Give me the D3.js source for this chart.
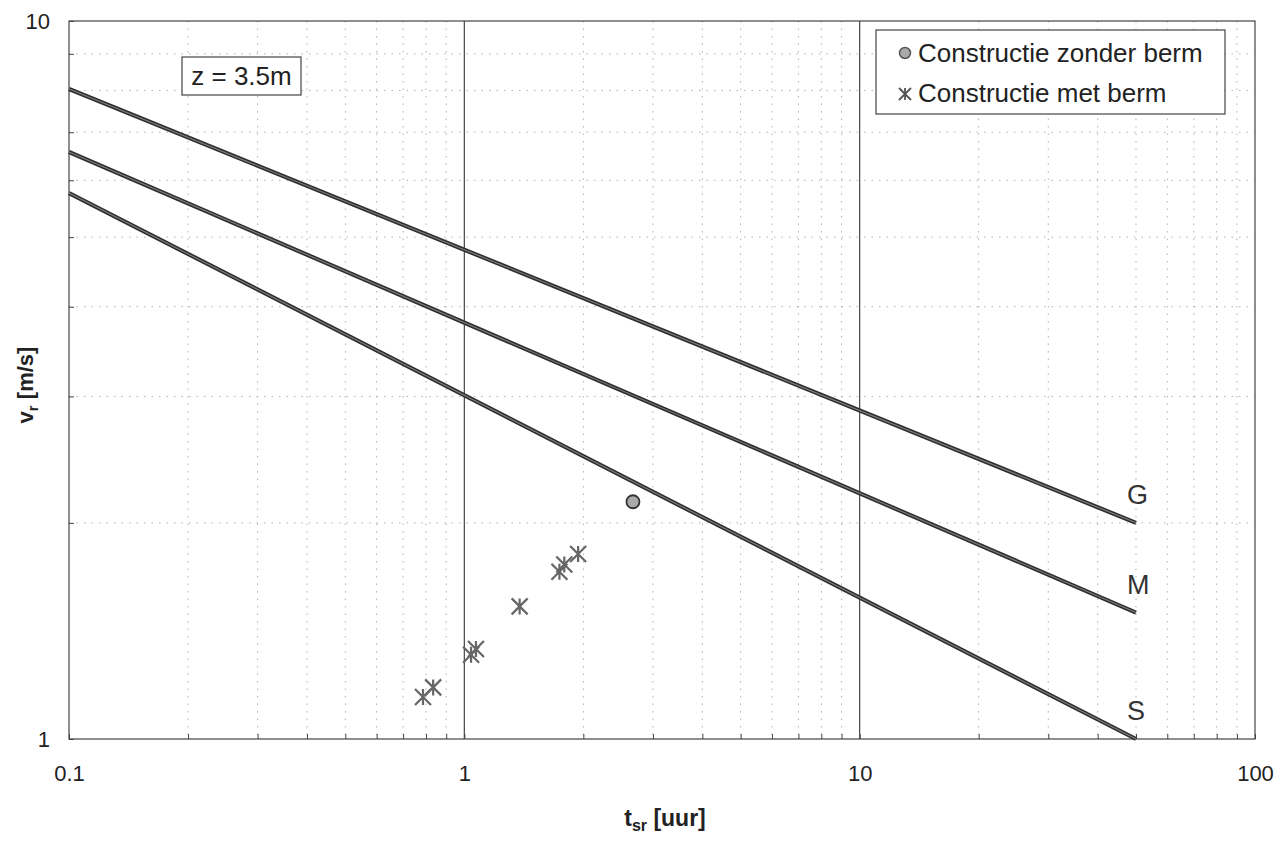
<!DOCTYPE html>
<html>
<head>
<meta charset="utf-8">
<script src="https://cdn.jsdelivr.net/npm/d3@7"></script>
<style>
  body { margin: 0; background: #fff; }
  text { font-family: Arial, "Liberation Sans", sans-serif; fill: #222; }
</style>
</head>
<body>
<div id="chart"></div>
<script>
// design lines (start at t = 0.1, end at t = 50)
var lineNames = ["G", "M", "S"];
var lineT = [0.1, 50];
var lineG = [8.04, 2.0];
var lineM = [6.57, 1.5];
var lineS = [5.76, 1.0];

// measured points
var tZonder = [2.67];
var vZonder = [2.14];
var tMet = [0.786, 0.834, 1.04, 1.07, 1.38, 1.74, 1.79, 1.94];
var vMet = [1.144, 1.18, 1.31, 1.335, 1.53, 1.71, 1.75, 1.81];

var xTickLabels = ["0.1", "1", "10", "100"];
var yTickLabels = ["1", "10"];
var legendLabels = ["Constructie zonder berm", "Constructie met berm"];
var boxLabel = "z = 3.5m";

var W = 1287, H = 843;
var margin = {top: 21, right: 32, bottom: 104, left: 69};

var svg = d3.select("#chart").append("svg")
    .attr("width", W)
    .attr("height", H);

var x = d3.scaleLog()
    .domain([0.1, 100])
    .range([margin.left, W - margin.right]);

var y = d3.scaleLog()
    .domain([1, 10])
    .range([H - margin.bottom, margin.top]);

var x0 = x.range()[0], x1 = x.range()[1];
var y0 = y.range()[0], y1 = y.range()[1];

// minor grid (dotted)
var xMinor = x.ticks().filter(function (d) { return xTickLabels.indexOf(String(d)) < 0; });
var yMinor = y.ticks().filter(function (d) { return d != 1 && d != 10; });

svg.append("g").selectAll("line")
    .data(xMinor)
    .enter().append("line")
    .attr("x1", function (d) { return x(d); })
    .attr("x2", function (d) { return x(d); })
    .attr("y1", y1).attr("y2", y0)
    .style("stroke", "#b0b0b0")
    .style("stroke-width", 1)
    .style("stroke-dasharray", "1.5,6");

svg.append("g").selectAll("line")
    .data(yMinor)
    .enter().append("line")
    .attr("y1", function (d) { return y(d); })
    .attr("y2", function (d) { return y(d); })
    .attr("x1", x0).attr("x2", x1)
    .style("stroke", "#b0b0b0")
    .style("stroke-width", 1)
    .style("stroke-dasharray", "1.5,6");

// major vertical grid at 1 and 10
svg.append("g").selectAll("line")
    .data([1, 10])
    .enter().append("line")
    .attr("x1", function (d) { return x(d); })
    .attr("x2", function (d) { return x(d); })
    .attr("y1", y1).attr("y2", y0)
    .style("stroke", "#444")
    .style("stroke-width", 1.2);

// frame
svg.append("rect")
    .attr("x", x0).attr("y", y1)
    .attr("width", x1 - x0).attr("height", y0 - y1)
    .style("fill", "none")
    .style("stroke", "#444")
    .style("stroke-width", 1.2);

// axes, ticks pointing inward
var xAxis = d3.axisBottom(x).tickSizeInner(-5).tickSizeOuter(0)
    .tickFormat(function (d) { return xTickLabels.indexOf(String(d)) >= 0 ? String(d) : ""; });
var gx = svg.append("g")
    .attr("transform", "translate(0," + y0 + ")")
    .call(xAxis);
gx.select(".domain").remove();
gx.selectAll("line").style("stroke", "#444");
gx.selectAll("text")
    .attr("y", 0).attr("dy", "1.9em")
    .style("font-size", "22px")
    .style("font-family", "Arial, 'Liberation Sans', sans-serif")
    .style("fill", "#222");

var yAxis = d3.axisLeft(y).tickSizeInner(-5).tickSizeOuter(0)
    .tickFormat(function (d) { return yTickLabels.indexOf(String(d)) >= 0 ? String(d) : ""; });
var gy = svg.append("g")
    .attr("transform", "translate(" + x0 + ",0)")
    .call(yAxis);
gy.select(".domain").remove();
gy.selectAll("line").style("stroke", "#444");
gy.selectAll("text")
    .attr("x", -19)
    .style("font-size", "22px")
    .style("font-family", "Arial, 'Liberation Sans', sans-serif")
    .style("fill", "#222");

// axis titles
var xt = svg.append("text")
    .attr("x", 665).attr("y", 826)
    .attr("text-anchor", "middle")
    .style("font-size", "23px")
    .style("font-weight", "bold");
xt.append("tspan").text("t");
xt.append("tspan").attr("dy", 5).style("font-size", "16px").text("sr");
xt.append("tspan").attr("dy", -5).text(" [uur]");

var yt = svg.append("text")
    .attr("transform", "translate(33," + ((y0 + y1) / 2 + 5) + ") rotate(-90)")
    .attr("text-anchor", "middle")
    .style("font-size", "22px")
    .style("font-weight", "bold");
yt.append("tspan").text("v");
yt.append("tspan").attr("dy", 5).style("font-size", "15px").text("r");
yt.append("tspan").attr("dy", -5).text(" [m/s]");

// design lines
var lineData = [lineG, lineM, lineS];
var lineGen = d3.line()
    .x(function (d, i) { return x(lineT[i]); })
    .y(function (d) { return y(d); });

var lines = svg.append("g").selectAll("g")
    .data(lineData)
    .enter().append("g");

lines.append("path")
    .attr("d", lineGen)
    .style("fill", "none")
    .style("stroke", "#2e2e2e")
    .style("stroke-width", 4.2);
lines.append("path")
    .attr("d", lineGen)
    .style("fill", "none")
    .style("stroke", "#808080")
    .style("stroke-width", 1.1);

lines.append("text")
    .attr("x", function (d) { return x(lineT[1]) - 9; })
    .attr("y", function (d) { return y(d[1]) - 19; })
    .style("font-size", "27px")
    .style("fill", "#333")
    .text(function (d, i) { return lineNames[i]; });

// markers
var starPath = function (s) {
    return "M" + (-s) + "," + (-s) + "L" + s + "," + s +
           "M" + s + "," + (-s) + "L" + (-s) + "," + s +
           "M0," + (-s) + "L0," + s;
};

svg.append("g").selectAll("path")
    .data(tMet)
    .enter().append("path")
    .attr("transform", function (d, i) { return "translate(" + x(d) + "," + y(vMet[i]) + ")"; })
    .attr("d", starPath(8))
    .style("fill", "none")
    .style("stroke", "#666")
    .style("stroke-width", 2.2);

svg.append("g").selectAll("circle")
    .data(tZonder)
    .enter().append("circle")
    .attr("cx", function (d) { return x(d); })
    .attr("cy", function (d, i) { return y(vZonder[i]); })
    .attr("r", 6.5)
    .style("fill", "#aaa")
    .style("stroke", "#333")
    .style("stroke-width", 1.8);

// z box
var zb = svg.append("g").attr("transform", "translate(182,57)");
zb.append("rect")
    .attr("width", 119).attr("height", 38)
    .style("fill", "#fff")
    .style("stroke", "#444")
    .style("stroke-width", 1.2);
zb.append("text")
    .attr("x", 59.5).attr("y", 28)
    .attr("text-anchor", "middle")
    .style("font-size", "26px")
    .text(boxLabel);

// legend
var lg = svg.append("g").attr("transform", "translate(876,30)");
lg.append("rect")
    .attr("width", 349).attr("height", 84)
    .style("fill", "#fff")
    .style("stroke", "#444")
    .style("stroke-width", 1.2);
lg.append("circle")
    .attr("cx", 29).attr("cy", 23).attr("r", 5.5)
    .style("fill", "#aaa")
    .style("stroke", "#555")
    .style("stroke-width", 1.5);
lg.append("path")
    .attr("transform", "translate(29,64)")
    .attr("d", starPath(6))
    .style("fill", "none")
    .style("stroke", "#555")
    .style("stroke-width", 1.8);
lg.selectAll("text.leg")
    .data(legendLabels)
    .enter().append("text")
    .attr("class", "leg")
    .attr("x", 42)
    .attr("y", function (d, i) { return 32 + i * 40; })
    .style("font-size", "26px")
    .text(function (d) { return d; });
</script>
</body>
</html>
